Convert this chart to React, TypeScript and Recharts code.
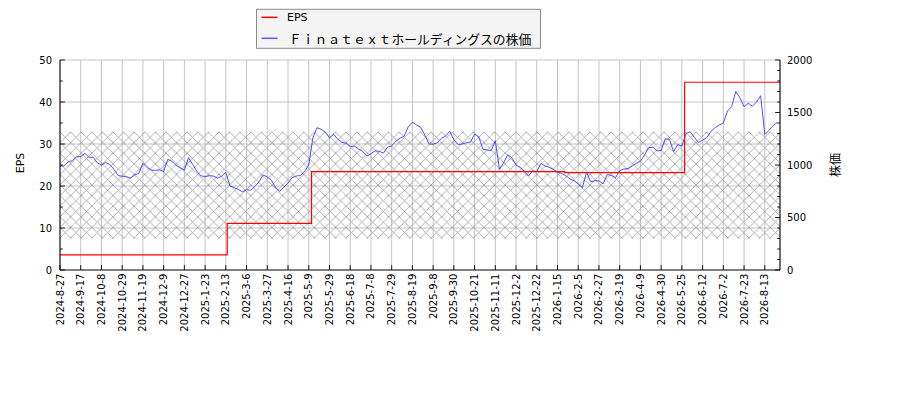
import React from "react";
import {
    LineChart,
    Line,
    XAxis,
    YAxis,
    CartesianGrid,
    ReferenceArea,
} from "recharts";

// x axis: one tick every 15 trading days
const tickLabels = [
    "2024-8-27", "2024-9-17", "2024-10-8", "2024-10-29", "2024-11-19",
    "2024-12-9", "2024-12-27", "2025-1-23", "2025-2-13", "2025-3-6",
    "2025-3-27", "2025-4-16", "2025-5-9", "2025-5-29", "2025-6-18",
    "2025-7-8", "2025-7-29", "2025-8-19", "2025-9-8", "2025-9-30",
    "2025-10-21", "2025-11-11", "2025-12-2", "2025-12-22", "2026-1-15",
    "2026-2-5", "2026-2-27", "2026-3-19", "2026-4-9", "2026-4-30",
    "2026-5-25", "2026-6-12", "2026-7-2", "2026-7-23", "2026-8-13",
];
const tickEvery = 15;
const lastIndex = 521;

// stock price, one value every 3 trading days
const priceStep = 3;
const price = [
    990, 990, 1031, 1041, 1079, 1080, 1111, 1073, 1075, 1020,
    1000, 1025, 1006, 960, 900, 893, 889, 875, 905, 920,
    1016, 975, 952, 948, 955, 937, 1054, 1035, 997, 973,
    952, 1070, 1005, 940, 897, 890, 898, 895, 875, 893,
    930, 800, 785, 768, 745, 765, 760, 795, 840, 905,
    886, 855, 785, 750, 790, 828, 880, 895, 900, 937,
    1000, 1260, 1355, 1340, 1313, 1258, 1293, 1245, 1215, 1207,
    1177, 1180, 1153, 1130, 1085, 1108, 1135, 1130, 1113, 1170,
    1181, 1227, 1255, 1275, 1365, 1408, 1381, 1360, 1286, 1200,
    1198, 1211, 1254, 1275, 1322, 1240, 1195, 1200, 1212, 1218,
    1294, 1268, 1152, 1142, 1137, 1230, 960, 1020, 1098, 1068,
    1000, 978, 940, 895, 945, 937, 1015, 990, 978, 958,
    930, 920, 897, 868, 850, 820, 785, 930, 840, 850,
    850, 820, 910, 900, 880, 946, 962, 965, 990, 1016,
    1035, 1095, 1165, 1170, 1135, 1137, 1250, 1244, 1128, 1195,
    1180, 1300, 1317, 1265, 1215, 1236, 1260, 1320, 1355, 1380,
    1400, 1515, 1555, 1700, 1640, 1555, 1588, 1560, 1600, 1660,
    1290, 1330, 1375, 1405,
];

// EPS changes (trading-day index where each value starts)
const epsStart = [0, 121, 182, 365, 452];
const epsValues = [3.6, 11.1, 23.4, 23.2, 44.7];

const hatchLow = 7.5;
const hatchHigh = 32.9;

const leftTicks = [0, 5, 10, 15, 20, 25, 30, 35, 40, 45, 50];
const leftGrid = [10, 20, 30, 40, 50];
const rightTicks = Array.from({ length: 21 }, (_, i) => i * 100);

const priceData = price.map((p, k) => ({ i: k * priceStep, price: p }));
const epsData = epsStart
    .map((s, k) => ({ i: s, eps: epsValues[k] }))
    .concat([{ i: lastIndex, eps: epsValues[epsValues.length - 1] }]);
const xTicks = tickLabels.map((_, k) => k * tickEvery);

const XTick = (props: any) => {
    const { x, y, payload } = props;
    const label = tickLabels[Math.round(payload.value / tickEvery)];
    const ty = y + 3.5;
    return (
        <g>
            <line x1={x} x2={x} y1={y} y2={y - 4.9} stroke="#000" strokeWidth={0.9} />
            <text
                x={x}
                y={ty}
                transform={`rotate(-90 ${x} ${ty})`}
                textAnchor="end"
                dominantBaseline="central"
                fontSize={10}
                fontFamily="DejaVu Sans"
                fill="#000"
            >
                {label}
            </text>
        </g>
    );
};

const LeftTick = (props: any) => {
    const { x, y, payload } = props;
    const major = payload.value % 10 === 0;
    return (
        <g>
            <line x1={x} x2={x + (major ? 4.9 : 2.8)} y1={y} y2={y} stroke="#000" strokeWidth={0.9} />
            {major && (
                <text x={x - 8} y={y} textAnchor="end" dominantBaseline="central"
                    fontSize={10} fontFamily="DejaVu Sans" fill="#000">
                    {payload.value}
                </text>
            )}
        </g>
    );
};

const RightTick = (props: any) => {
    const { x, y, payload } = props;
    const major = payload.value % 500 === 0;
    return (
        <g>
            <line x1={x} x2={x - (major ? 4.9 : 2.8)} y1={y} y2={y} stroke="#000" strokeWidth={0.9} />
            {major && (
                <text x={x + 7} y={y} textAnchor="start" dominantBaseline="central"
                    fontSize={10} fontFamily="DejaVu Sans" fill="#000">
                    {payload.value}
                </text>
            )}
        </g>
    );
};

const App = () => {
    return (
        <div
            style={{
                position: "absolute",
                left: 0,
                top: 0,
                width: 900,
                height: 400,
                background: "#fff",
            }}
        >
            <svg width={0} height={0} style={{ position: "absolute" }}>
                <defs>
                    <pattern id="hatch" patternUnits="userSpaceOnUse" width={10.6} height={10.6} x={60} y={132}>
                        <path d="M0,0 L10.6,10.6 M10.6,0 L0,10.6" stroke="#9a9a9a" strokeWidth={0.8} />
                    </pattern>
                </defs>
            </svg>
            <LineChart
                width={900}
                height={400}
                data={priceData}
                margin={{ top: 60, right: 0, bottom: 0, left: 0 }}
            >
                <CartesianGrid
                    xAxisId="x"
                    yAxisId="left"
                    stroke="#c4c4c4"
                    horizontalValues={leftGrid}
                />
                <XAxis
                    xAxisId="x"
                    dataKey="i"
                    type="number"
                    domain={[0, lastIndex]}
                    ticks={xTicks}
                    interval={0}
                    height={130}
                    tickSize={0}
                    tickMargin={0}
                    tickLine={false}
                    tick={<XTick />}
                    axisLine={{ stroke: "#000" }}
                />
                <YAxis
                    yAxisId="left"
                    domain={[0, 50]}
                    ticks={leftTicks}
                    interval={0}
                    width={60}
                    tickSize={0}
                    tickMargin={0}
                    tickLine={false}
                    tick={<LeftTick />}
                    axisLine={{ stroke: "#000" }}
                />
                <YAxis
                    yAxisId="right"
                    orientation="right"
                    domain={[0, 2000]}
                    ticks={rightTicks}
                    interval={0}
                    width={120}
                    tickSize={0}
                    tickMargin={0}
                    tickLine={false}
                    tick={<RightTick />}
                    axisLine={{ stroke: "#000" }}
                />
                <ReferenceArea
                    xAxisId="x"
                    yAxisId="left"
                    y1={hatchLow}
                    y2={hatchHigh}
                    fill="url(#hatch)"
                    fillOpacity={1}
                    stroke="none"
                />
                <Line
                    xAxisId="x"
                    yAxisId="right"
                    dataKey="price"
                    type="linear"
                    stroke="#3a3aff"
                    strokeWidth={0.9}
                    dot={false}
                    activeDot={false}
                    isAnimationActive={false}
                />
                <Line
                    xAxisId="x"
                    yAxisId="left"
                    data={epsData}
                    dataKey="eps"
                    type="stepAfter"
                    stroke="#ff0000"
                    strokeWidth={1.2}
                    dot={false}
                    activeDot={false}
                    isAnimationActive={false}
                />
            </LineChart>
            <div
                style={{
                    position: "absolute",
                    left: 20,
                    top: 163,
                    transform: "translate(-50%, -50%) rotate(-90deg)",
                    fontFamily: "DejaVu Sans",
                    fontSize: 11,
                    whiteSpace: "nowrap",
                }}
            >
                EPS
            </div>
            <div
                style={{
                    position: "absolute",
                    left: 834,
                    top: 165,
                    transform: "translate(-50%, -50%) rotate(-90deg)",
                    fontFamily: "Noto Sans CJK JP",
                    fontSize: 12,
                    whiteSpace: "nowrap",
                }}
            >
                株価
            </div>
            <svg
                width={290}
                height={45}
                style={{ position: "absolute", left: 254, top: 6 }}
            >
                <rect x={2.5} y={3.3} width={284} height={39} fill="#f4f4f4" stroke="#8c8c8c" strokeWidth={1} />
                <line x1={7.5} x2={23.5} y1={11.3} y2={11.3} stroke="#ff0000" strokeWidth={1.5} />
                <text x={33} y={11.3} dominantBaseline="central" fontSize={11} fontFamily="DejaVu Sans" fill="#000">
                    EPS
                </text>
                <line x1={7.5} x2={23.5} y1={32.3} y2={32.3} stroke="#5a5aff" strokeWidth={1.5} />
                <text x={35} y={32.3} dominantBaseline="central" fontSize={12.8} fontFamily="Noto Sans CJK JP" fill="#000">
                    Ｆｉｎａｔｅｘｔホールディングスの株価
                </text>
            </svg>
        </div>
    );
};

export default App;
